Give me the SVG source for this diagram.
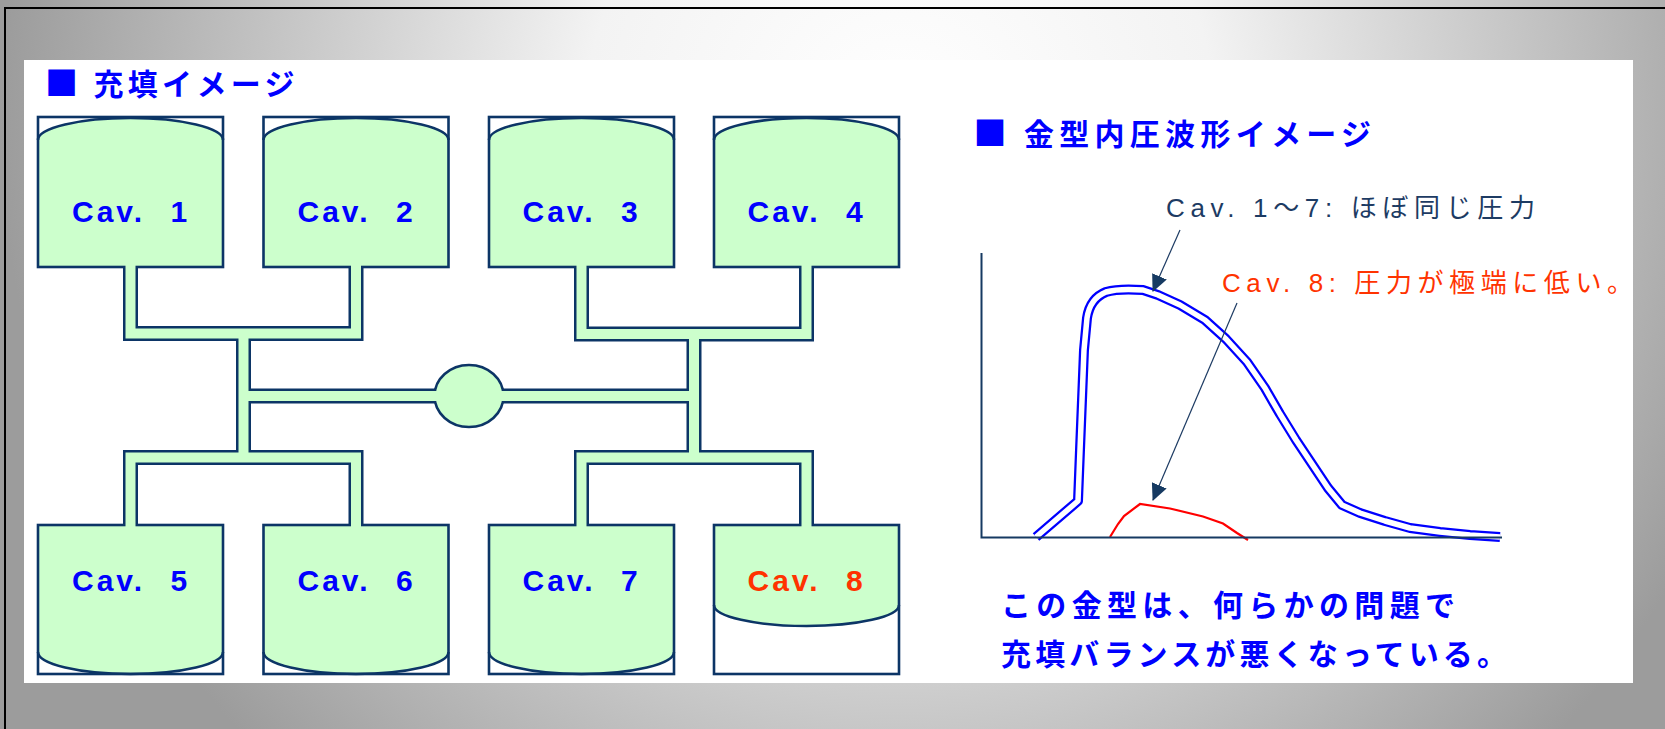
<svg xmlns="http://www.w3.org/2000/svg" width="1665" height="729" viewBox="0 0 1665 729">
<style>
.box{fill:none;stroke:#0c3566;stroke-width:2.6}
.fill{fill:#ccffcc}
.arc{fill:none;stroke:#0c3566;stroke-width:2.6}
.rn{fill:none;stroke:#0c3566;stroke-width:15;stroke-linejoin:miter}
.rg{fill:none;stroke:#ccffcc;stroke-width:10;stroke-linejoin:miter}
.cav{font-family:"Liberation Sans",Arial,sans-serif;font-weight:bold;font-size:30px;fill:#0000ff;letter-spacing:3px}
.num{letter-spacing:0}
.ttl{font-family:"Noto Sans CJK JP",sans-serif;font-weight:bold;font-size:30px;fill:#0000ff}
.sq{font-size:33px}
.ann{font-family:"Liberation Sans","Noto Sans CJK JP",sans-serif;font-size:26px}
.ax{fill:none;stroke:#163a62;stroke-width:2}
.ar{fill:none;stroke:#1d3b63;stroke-width:1.2}
</style>
<defs>
<radialGradient id="bg" gradientUnits="userSpaceOnUse" cx="900" cy="120" r="900">
<stop offset="0" stop-color="#ffffff"/>
<stop offset="0.35" stop-color="#f3f3f3"/>
<stop offset="1" stop-color="#9c9c9c"/>
</radialGradient>
<marker id="ah" markerUnits="userSpaceOnUse" markerWidth="17" markerHeight="16" viewBox="0 0 17 16" refX="16" refY="8" orient="auto">
<path d="M0,0 L17,8 L0,16 Z" fill="#163a62"/>
</marker>
<path id="wave" d="M1036,537 L1078,501 L1080,450 L1082,400 L1084,350 L1087,318 C1089,305 1096,296 1106,292 C1116,289 1130,289 1143,290 L1158,295 L1180,305 L1205,320 L1226,339 L1247,362 L1265,388 L1280,414 L1296,440 L1312,464 L1328,488 L1342,505 L1360,513 L1385,521 L1410,528 L1440,532 L1470,535 L1500,537"/>
</defs>
<rect x="0" y="0" width="1665" height="729" fill="url(#bg)"/>
<rect x="5" y="8" width="1720" height="800" fill="none" stroke="#000" stroke-width="2"/>
<rect x="24" y="60" width="1609" height="623" fill="#ffffff"/>

<text id="title1" class="ttl" x="45" y="95" textLength="249.5" lengthAdjust="spacing"><tspan class="sq">■</tspan> 充填イメージ</text>

<g id="cav1">
<path class="fill" d="M38,140 A92.5,22 0 0 1 223,140 V267 H38 Z"/>
<path class="arc" d="M38,140 A92.5,22 0 0 1 223,140"/>
<rect class="box" x="38" y="117" width="185" height="150"/>
<text class="cav" x="72" y="222">Cav. <tspan class="num" dx="14">1</tspan></text>
</g>
<g id="cav2">
<path class="fill" d="M263.5,140 A92.5,22 0 0 1 448.5,140 V267 H263.5 Z"/>
<path class="arc" d="M263.5,140 A92.5,22 0 0 1 448.5,140"/>
<rect class="box" x="263.5" y="117" width="185" height="150"/>
<text class="cav" x="297.5" y="222">Cav. <tspan class="num" dx="14">2</tspan></text>
</g>
<g id="cav3">
<path class="fill" d="M489,140 A92.5,22 0 0 1 674,140 V267 H489 Z"/>
<path class="arc" d="M489,140 A92.5,22 0 0 1 674,140"/>
<rect class="box" x="489" y="117" width="185" height="150"/>
<text class="cav" x="522.5" y="222">Cav. <tspan class="num" dx="14">3</tspan></text>
</g>
<g id="cav4">
<path class="fill" d="M714,140 A92.5,22 0 0 1 899,140 V267 H714 Z"/>
<path class="arc" d="M714,140 A92.5,22 0 0 1 899,140"/>
<rect class="box" x="714" y="117" width="185" height="150"/>
<text class="cav" x="747.5" y="222">Cav. <tspan class="num" dx="14">4</tspan></text>
</g>
<g id="cav5">
<path class="fill" d="M38,525 H223 V652 A92.5,22 0 0 1 38,652 Z"/>
<path class="arc" d="M223,652 A92.5,22 0 0 1 38,652"/>
<rect class="box" x="38" y="525" width="185" height="149"/>
<text class="cav" x="72" y="591">Cav. <tspan class="num" dx="14">5</tspan></text>
</g>
<g id="cav6">
<path class="fill" d="M263.5,525 H448.5 V652 A92.5,22 0 0 1 263.5,652 Z"/>
<path class="arc" d="M448.5,652 A92.5,22 0 0 1 263.5,652"/>
<rect class="box" x="263.5" y="525" width="185" height="149"/>
<text class="cav" x="297.5" y="591">Cav. <tspan class="num" dx="14">6</tspan></text>
</g>
<g id="cav7">
<path class="fill" d="M489,525 H674 V652 A92.5,22 0 0 1 489,652 Z"/>
<path class="arc" d="M674,652 A92.5,22 0 0 1 489,652"/>
<rect class="box" x="489" y="525" width="185" height="149"/>
<text class="cav" x="522.5" y="591">Cav. <tspan class="num" dx="14">7</tspan></text>
</g>
<g id="cav8">
<path class="fill" d="M714,525 H899 V605 A92.5,21 0 0 1 714,605 Z"/>
<path class="arc" d="M899,605 A92.5,21 0 0 1 714,605"/>
<rect class="box" x="714" y="525" width="185" height="149"/>
<text class="cav" x="747.5" y="591" style="fill:#ff3300">Cav. <tspan class="num" dx="14">8</tspan></text>
</g>

<g id="runners">
<path class="rn" d="M130.5,267 V333.5 H356 V267"/>
<path class="rn" d="M243.5,333.5 V457.5"/>
<path class="rn" d="M130.5,525 V457.5 H356 V525"/>
<path class="rn" d="M581.5,267 V334 H806.5 V267"/>
<path class="rn" d="M694,334 V457.5"/>
<path class="rn" d="M581.5,525 V457.5 H806.5 V525"/>
<path class="rn" d="M243.5,396 H694"/>
<ellipse id="sprue" cx="469" cy="396" rx="34.5" ry="31" fill="#ccffcc" stroke="#0c3566" stroke-width="2.6"/>
<path class="rg" d="M130.5,265 V333.5 H356 V265"/>
<path class="rg" d="M243.5,333.5 V457.5"/>
<path class="rg" d="M130.5,527 V457.5 H356 V527"/>
<path class="rg" d="M581.5,265 V334 H806.5 V265"/>
<path class="rg" d="M694,334 V457.5"/>
<path class="rg" d="M581.5,527 V457.5 H806.5 V527"/>
<path class="rg" d="M243.5,396 H694"/>
</g>

<text id="title2" class="ttl" x="973.5" y="145" textLength="397.5" lengthAdjust="spacing"><tspan class="sq">■</tspan> 金型内圧波形イメージ</text>

<g id="chart">
<use href="#wave" fill="none" stroke="#0000ff" stroke-width="10" stroke-linejoin="round"/>
<use href="#wave" fill="none" stroke="#ffffff" stroke-width="5.5" stroke-linejoin="round"/>
<path d="M1110,537 L1118,524 L1124,516 L1140,504 L1170,508.5 L1203,516.5 L1223,523.5 L1237,533 L1248,540" fill="none" stroke="#ff0000" stroke-width="2.2"/>
<path class="ax" d="M981.5,253 V537.5 H1502"/>
</g>

<g id="connectors">
<line class="ar" x1="1180" y1="230" x2="1153" y2="291" marker-end="url(#ah)"/>
<line class="ar" x1="1237" y1="303" x2="1153" y2="500" marker-end="url(#ah)"/>
</g>

<text id="label17" class="ann" x="1166" y="217" textLength="369" lengthAdjust="spacing" fill="#1d3b63">Cav. 1～7: ほぼ同じ圧力</text>
<text id="label8" class="ann" x="1222" y="292" textLength="411" lengthAdjust="spacing" fill="#ff3300">Cav. 8: 圧力が極端に低い。</text>

<g id="note">
<text class="ttl" x="1001" y="616" textLength="454" lengthAdjust="spacing">この金型は、何らかの問題で</text>
<text class="ttl" x="1001" y="665" textLength="506" lengthAdjust="spacing">充填バランスが悪くなっている。</text>
</g>
</svg>
